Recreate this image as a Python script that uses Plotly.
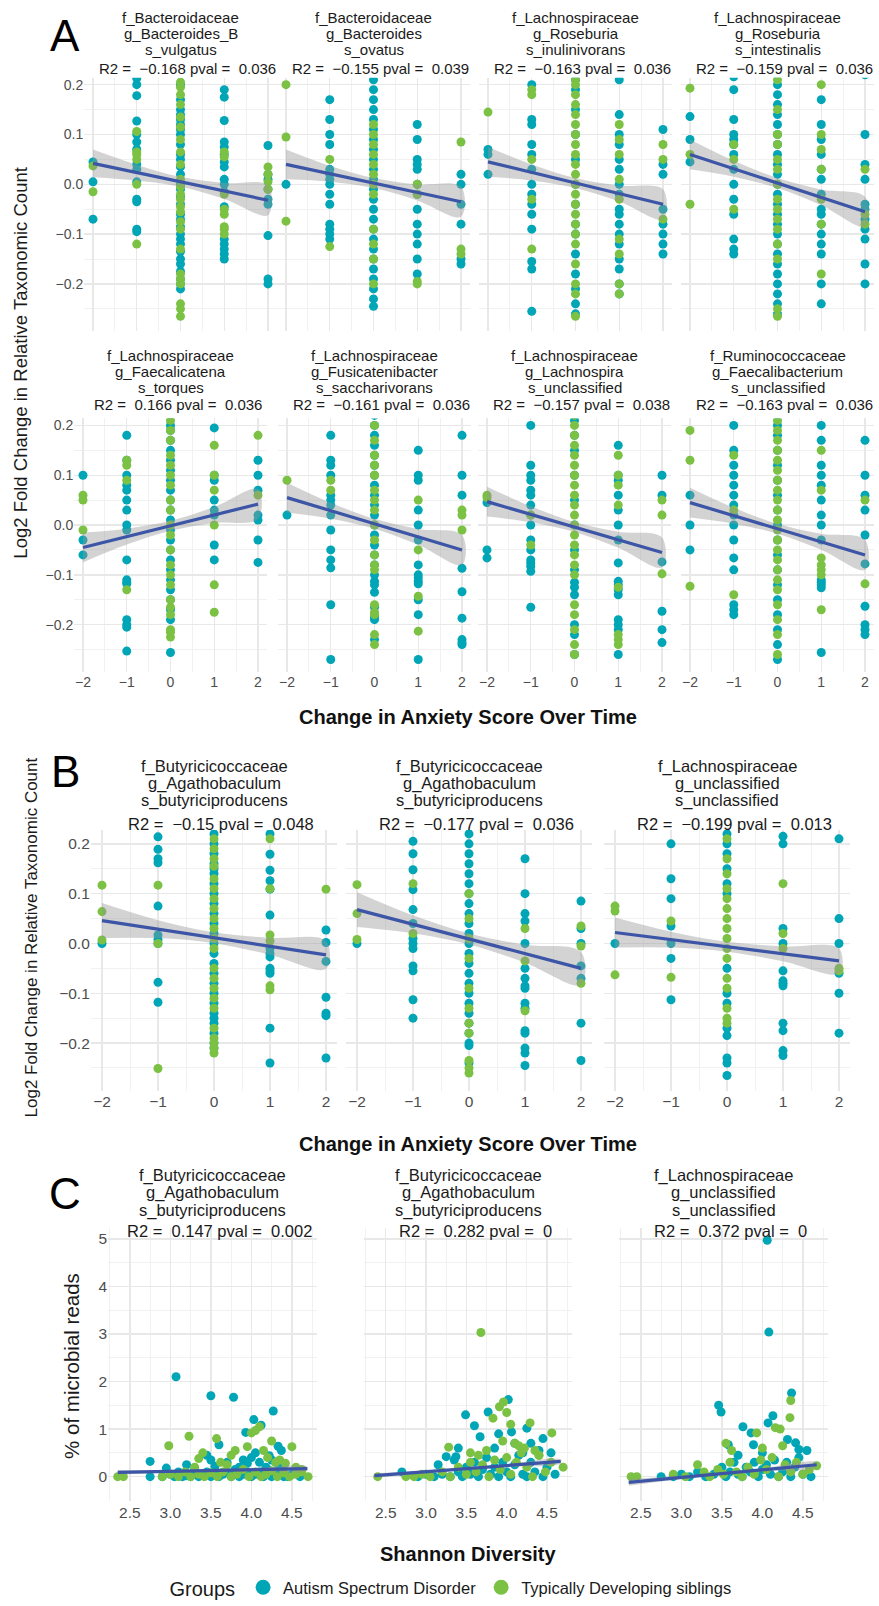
import plotly.graph_objects as go

W, H = 879, 1606
TEAL = '#00A5B6'
GREEN = '#7BC143'
FITC = '#3C55A6'
BANDC = 'rgba(150,150,150,0.42)'
FONT = 'Liberation Sans, Arial, sans-serif'
NB = '\u00a0'

# ------------------------------------------------------------------ DATA
# Panel A / B : y values per change-in-anxiety level (x), per group
A1_asd = {-2: [0.045, 0.005, -0.07],
          -1: [0.213, 0.2, 0.178, 0.127, 0.1, 0.085, 0.07, 0.04, 0.03, 0.005, -0.03, -0.035, -0.09, -0.095],
          0: [0.2, 0.17, 0.15, 0.14, 0.13, 0.12, 0.11, 0.1, 0.08, 0.06, 0.05, 0.035, 0.02, 0.0, -0.01, -0.025, -0.04,
              -0.06, -0.07, -0.085, -0.1, -0.11, -0.12, -0.135, -0.15, -0.16, -0.175, -0.19, -0.2, -0.21],
          1: [0.19, 0.175, 0.128, 0.085, 0.075, 0.06, 0.045, 0.035, 0.01, 0.0, -0.015, -0.045, -0.11, -0.12, -0.13, -0.14, -0.15],
          2: [0.078, 0.02, 0.01, -0.01, -0.03, -0.04, -0.103, -0.19, -0.2]}
A1_td = {-2: [0.037, -0.015],
         -1: [0.106, 0.065, 0.06, 0.05, 0.0, -0.12],
         0: [0.205, 0.195, 0.18, 0.16, 0.135, 0.115, 0.09, 0.065, 0.04, 0.01, -0.005, -0.02, -0.03, -0.045,
             -0.055, -0.075, -0.09, -0.13, -0.18, -0.19, -0.2, -0.24, -0.25, -0.265],
         1: [0.065, 0.055, -0.02, -0.05, -0.06, -0.085, -0.09, -0.1],
         2: [0.035, 0.02, 0.005, -0.01]}

A2_asd = {-2: [0.0],
          -1: [0.17, 0.13, 0.1, 0.08, 0.03, 0.02, 0.01, 0.0, -0.02, -0.04, -0.08, -0.09, -0.1, -0.11],
          0: [0.21, 0.19, 0.17, 0.15, 0.13, 0.11, 0.09, 0.07, 0.05, 0.03, 0.01, -0.01, -0.03, -0.05, -0.07, -0.09,
              -0.11, -0.13, -0.15, -0.17, -0.19, -0.21, -0.23, -0.245],
          1: [0.12, 0.09, 0.05, 0.04, 0.03, 0.0, -0.02, -0.05, -0.08, -0.1, -0.12, -0.15, -0.18],
          2: [0.02, 0.0, -0.04, -0.08, -0.15, -0.16]}
A2_td = {-2: [0.2, 0.095, -0.074],
         -1: [0.05, -0.125],
         0: [0.12, 0.1, 0.08, 0.06, 0.04, 0.02, 0.0, -0.02, -0.09, -0.12, -0.15, -0.2],
         1: [0.0, -0.02, -0.195, -0.2],
         2: [0.085, -0.13, -0.14]}

A3_asd = {-2: [0.07, 0.06, 0.02],
          -1: [0.2, 0.13, 0.12, 0.08, 0.06, 0.03, 0.0, -0.02, -0.04, -0.06, -0.09, -0.155, -0.17, -0.255],
          0: [0.21, 0.19, 0.15, 0.1, 0.05, 0.0, -0.04, -0.08, -0.1, -0.14, -0.18, -0.21, -0.24, -0.26],
          1: [0.21, 0.14, 0.1, 0.08, 0.05, 0.03, 0.0, -0.02, -0.05, -0.06, -0.08, -0.1, -0.12, -0.15, -0.17, -0.2, -0.22],
          2: [0.11, 0.04, 0.02, -0.05, -0.08, -0.1, -0.12, -0.14]}
A3_td = {-2: [0.145],
         -1: [0.19, 0.18, 0.05, -0.03, -0.13],
         0: [0.21, 0.2, 0.18, 0.16, 0.14, 0.12, 0.1, 0.08, 0.06, 0.04, 0.02, 0.0, -0.02, -0.04, -0.06, -0.08,
             -0.1, -0.12, -0.16, -0.2, -0.22, -0.265],
         1: [0.12, 0.09, 0.06, 0.01, -0.03, -0.11, -0.14, -0.2, -0.22],
         2: [0.08, 0.05, -0.07]}

A4_asd = {-2: [0.136, 0.09, 0.045],
          -1: [0.216, 0.19, 0.13, 0.1, 0.09, 0.08, 0.06, 0.03, 0.0, -0.03, -0.06, -0.11, -0.13, -0.14],
          0: [0.22, 0.2, 0.18, 0.16, 0.14, 0.12, 0.1, 0.08, 0.06, 0.04, 0.02, 0.0, -0.02, -0.04, -0.06, -0.08,
              -0.1, -0.12, -0.14, -0.16, -0.18, -0.2, -0.22, -0.24, -0.26],
          1: [0.17, 0.12, 0.09, 0.06, 0.03, 0.01, -0.02, -0.05, -0.06, -0.08, -0.1, -0.12, -0.14, -0.2, -0.24],
          2: [0.22, 0.1, 0.04, 0.01, -0.04, -0.05, -0.07, -0.09, -0.11, -0.16, -0.2]}
A4_td = {-2: [0.193, 0.06, -0.04],
         -1: [0.08, 0.05, -0.05],
         0: [0.21, 0.15, 0.1, 0.08, 0.05, 0.03, 0.0, -0.03, -0.05, -0.07, -0.09, -0.12, -0.15, -0.25, -0.265],
         1: [0.2, 0.1, 0.07, 0.03, -0.03, -0.08, -0.18],
         2: [0.03, -0.06, -0.08]}

A5_asd = {-2: [0.1, -0.03, -0.06],
          -1: [0.18, 0.13, 0.1, 0.08, 0.07, 0.05, 0.03, 0.0, -0.01, -0.07, -0.11, -0.115, -0.118, -0.19, -0.2, -0.205, -0.253],
          0: [0.22, 0.2, 0.19, 0.17, 0.15, 0.13, 0.11, 0.09, 0.07, 0.05, 0.03, 0.01, -0.01, -0.03, -0.05, -0.07,
              -0.09, -0.11, -0.13, -0.15, -0.17, -0.19, -0.256],
          1: [0.195, 0.1, 0.09, 0.05, 0.03, 0.02, -0.04, -0.07],
          2: [0.13, 0.1, 0.07, 0.02, 0.01, -0.03, -0.075]}
A5_td = {-2: [0.06, 0.05, -0.01],
         -1: [0.13, 0.12, 0.09, -0.13],
         0: [0.22, 0.21, 0.19, 0.17, 0.14, 0.12, 0.1, 0.08, 0.05, 0.03, 0.0, -0.02, -0.05, -0.08, -0.1, -0.12,
             -0.15, -0.165, -0.18, -0.21, -0.215, -0.225],
         1: [0.16, 0.1, 0.07, 0.0, -0.12, -0.175],
         2: [0.18, 0.06]}

A6_asd = {-2: [0.02],
          -1: [0.18, 0.13, 0.12, 0.1, 0.06, 0.05, 0.04, 0.02, -0.01, -0.05, -0.07, -0.086, -0.16, -0.27],
          0: [0.22, 0.2, 0.18, 0.16, 0.14, 0.12, 0.1, 0.08, 0.06, 0.04, 0.02, 0.0, -0.02, -0.04, -0.06, -0.08,
              -0.1, -0.113, -0.12, -0.135, -0.165, -0.185, -0.19, -0.23],
          1: [0.15, 0.1, 0.09, 0.03, 0.0, -0.03, -0.08, -0.1, -0.106, -0.113, -0.118, -0.15, -0.18, -0.27],
          2: [0.18, 0.1, 0.06, -0.087, -0.134, -0.187, -0.23, -0.236, -0.24]}
A6_td = {-2: [0.09],
         -1: [0.09, 0.07],
         0: [0.2, 0.17, 0.14, 0.12, 0.1, 0.07, 0.05, 0.03, 0.0, -0.03, -0.06, -0.08, -0.09, -0.16, -0.175,
             -0.18, -0.22, -0.24],
         1: [0.05, -0.05, -0.143, -0.213],
         2: [0.03, 0.02, -0.01]}

A7_asd = {-2: [0.045, -0.05, -0.066],
          -1: [0.2, 0.12, 0.1, 0.09, 0.07, 0.06, 0.04, 0.02, 0.0, -0.03, -0.05, -0.07, -0.076, -0.083, -0.093, -0.165],
          0: [0.21, 0.18, 0.15, 0.1, 0.05, 0.0, -0.05, -0.09, -0.115, -0.125, -0.14, -0.2, -0.22, -0.26],
          1: [0.16, 0.1, 0.09, 0.06, 0.03, 0.0, -0.03, -0.076, -0.113, -0.12, -0.13, -0.14, -0.19, -0.2, -0.21, -0.26],
          2: [0.1, 0.06, -0.074, -0.173, -0.21, -0.236]}
A7_td = {-2: [0.06, 0.055],
         -1: [0.02, -0.04],
         0: [0.22, 0.2, 0.18, 0.16, 0.14, 0.12, 0.1, 0.08, 0.06, 0.04, 0.02, 0.0, -0.02, -0.04, -0.06, -0.08,
             -0.1, -0.16, -0.18, -0.21, -0.24, -0.26],
         1: [0.14, 0.1, 0.08, 0.04, -0.125, -0.22, -0.23, -0.24],
         2: [0.05, 0.02, -0.098]}

A8_asd = {-2: [0.06, 0.0, -0.05],
          -1: [0.2, 0.15, 0.12, 0.1, 0.08, 0.06, 0.04, 0.02, 0.0, -0.03, -0.066, -0.09, -0.16, -0.17, -0.18],
          0: [0.22, 0.2, 0.18, 0.15, 0.12, 0.09, 0.06, 0.03, 0.0, -0.03, -0.06, -0.09, -0.12, -0.15, -0.18,
              -0.21, -0.24, -0.27],
          1: [0.2, 0.17, 0.12, 0.1, 0.08, 0.05, 0.02, 0.0, -0.03, -0.11, -0.115, -0.12, -0.126, -0.256],
          2: [0.17, 0.1, 0.06, 0.03, -0.02, -0.078, -0.163, -0.2, -0.21, -0.22]}
A8_td = {-2: [0.19, 0.13, -0.123],
         -1: [0.14, 0.03, -0.14],
         0: [0.21, 0.19, 0.17, 0.15, 0.13, 0.11, 0.09, 0.07, 0.05, 0.03, 0.01, -0.01, -0.03, -0.05, -0.07,
             -0.09, -0.11, -0.13, -0.16, -0.19, -0.22, -0.26],
         1: [0.15, 0.07, -0.066, -0.08, -0.09, -0.1, -0.17],
         2: [0.05, -0.118]}

B1_asd = {-2: [0.0],
          -1: [0.214, 0.189, 0.17, 0.162, 0.075, 0.017, 0.008, 0.0, -0.078, -0.118],
          0: [0.22, 0.2, 0.18, 0.16, 0.15, 0.14, 0.12, 0.1, 0.08, 0.06, 0.04, 0.02, 0.0, -0.02, -0.04, -0.06,
              -0.08, -0.1, -0.12, -0.14, -0.15, -0.16, -0.18, -0.2, -0.21],
          1: [0.22, 0.179, 0.147, 0.126, 0.109, 0.057, -0.01, -0.02, -0.027, -0.05, -0.055, -0.06, -0.17, -0.24],
          2: [0.027, 0.002, -0.036, -0.108, -0.14, -0.145, -0.23]}
B1_td = {-2: [0.117, 0.064, 0.007],
         -1: [0.117, 0.0, -0.251],
         0: [0.21, 0.19, 0.17, 0.155, 0.13, 0.11, 0.09, 0.07, 0.05, 0.03, 0.01, -0.01, -0.05, -0.07, -0.09,
             -0.11, -0.13, -0.17, -0.19, -0.2, -0.21, -0.22],
         1: [0.21, 0.11, 0.017, 0.005, -0.085, -0.093],
         2: [0.109]}

B2_asd = {-2: [0.0],
          -1: [0.205, 0.18, 0.148, 0.108, 0.068, 0.04, 0.01, 0.0, -0.01, -0.045, -0.055, -0.113, -0.15],
          0: [0.22, 0.2, 0.18, 0.16, 0.14, 0.12, 0.1, 0.08, 0.06, 0.04, 0.02, 0.0, -0.02, -0.04, -0.06, -0.08,
              -0.1, -0.12, -0.14, -0.16, -0.18, -0.2, -0.205, -0.24],
          1: [0.17, 0.1, 0.06, 0.045, 0.0, -0.05, -0.07, -0.085, -0.09, -0.12, -0.13, -0.175, -0.18, -0.21, -0.22, -0.245],
          2: [0.085, 0.03, 0.0, -0.045, -0.07, -0.16, -0.235]}
B2_td = {-2: [0.118, 0.06, 0.008],
         -1: [0.12, 0.02],
         0: [0.1, 0.05, 0.01, -0.03, -0.09, -0.13, -0.16, -0.18, -0.235, -0.25, -0.26],
         1: [0.03, -0.035, -0.135],
         2: [0.035, -0.005, -0.08]}

B3_asd = {-2: [0.0],
          -1: [0.2, 0.13, 0.09, 0.035, 0.0, -0.03, -0.113],
          0: [0.22, 0.2, 0.18, 0.15, 0.12, 0.1, -0.05, -0.1, -0.12, -0.17, -0.185, -0.23, -0.24, -0.265],
          1: [0.215, 0.2, 0.03, 0.0, -0.055, -0.075, -0.08, -0.085, -0.16, -0.175, -0.215, -0.225],
          2: [0.21, 0.05, 0.0, -0.06, -0.1, -0.18]}
B3_td = {-2: [0.075, 0.065, -0.063],
         -1: [0.045, -0.068],
         0: [0.21, 0.17, 0.14, 0.11, 0.09, 0.07, 0.05, 0.03, 0.01, -0.01, -0.03, -0.07, -0.09, -0.13, -0.15, -0.16],
         1: [0.12, 0.02, -0.01],
         2: [-0.05, -0.055]}

# fitted line: value at x=-2 and x=2 ; CI half-width at x=-2,-1,0,1,2
fit_x = [-2, 2]
band_x = [-2, -1, 0, 1, 2]
A1_fit, A1_band = [0.042, -0.032], [0.028, 0.016, 0.01, 0.016, 0.03]
A2_fit, A2_band = [0.04, -0.035], [0.03, 0.016, 0.01, 0.016, 0.03]
A3_fit, A3_band = [0.045, -0.04], [0.03, 0.016, 0.01, 0.016, 0.03]
A4_fit, A4_band = [0.06, -0.055], [0.03, 0.016, 0.01, 0.016, 0.03]
A5_fit, A5_band = [-0.045, 0.042], [0.03, 0.016, 0.01, 0.016, 0.03]
A6_fit, A6_band = [0.055, -0.05], [0.03, 0.016, 0.01, 0.016, 0.03]
A7_fit, A7_band = [0.047, -0.055], [0.03, 0.016, 0.01, 0.016, 0.03]
A8_fit, A8_band = [0.045, -0.06], [0.03, 0.016, 0.01, 0.016, 0.03]
B1_fit, B1_band = [0.046, -0.023], [0.035, 0.018, 0.011, 0.017, 0.028]
B2_fit, B2_band = [0.068, -0.05], [0.035, 0.018, 0.011, 0.018, 0.033]
B3_fit, B3_band = [0.022, -0.035], [0.03, 0.016, 0.01, 0.015, 0.025]

# Panel C : Shannon diversity (x) vs % of microbial reads (y)
C1_asd_x = [2.75, 2.9, 3.0, 3.05, 3.1, 3.15, 3.2, 3.25, 3.3, 3.35, 3.4, 3.45, 3.5, 3.55, 3.6, 3.65, 3.7, 3.75,
            3.8, 3.85, 3.9, 3.95, 4.0, 4.05, 4.1, 4.15, 4.2, 4.25, 4.3, 4.35, 4.4, 4.45, 4.5, 4.6,
            2.75, 2.95, 3.3, 3.45, 3.5, 3.6, 3.7, 3.85, 3.9, 4.0, 4.05, 4.1, 4.18, 4.22, 4.3, 4.35, 4.4, 3.2,
            3.55, 3.95, 4.25, 3.07, 3.5, 3.78, 4.27, 4.03, 4.12, 3.93, 4.33, 4.37]
C1_asd_y = [0.0, 0.0, 0.05, 0.0, 0.1, 0.0, 0.02, 0.0, 0.08, 0.0, 0.05, 0.1, 0.0, 0.12, 0.0, 0.05, 0.1, 0.0,
            0.15, 0.0, 0.05, 0.1, 0.0, 0.05, 0.1, 0.0, 0.15, 0.0, 0.05, 0.1, 0.0, 0.0, 0.05, 0.0,
            0.32, 0.18, 0.15, 0.45, 0.35, 0.67, 0.3, 0.2, 0.35, 0.4, 0.5, 0.3, 0.2, 0.44, 0.3, 0.2, 0.25, 0.25,
            0.22, 0.28, 0.35, 2.1, 1.7, 1.67, 1.38, 1.2, 1.08, 0.93, 0.64, 0.55]
C1_td_x = [2.35, 2.42, 2.9, 3.0, 3.1, 3.18, 3.25, 3.35, 3.42, 3.5, 3.58, 3.65, 3.75, 3.82, 3.9, 3.97, 4.05,
           4.12, 4.18, 4.25, 4.32, 4.4, 4.47, 4.55, 4.62, 4.7,
           2.98, 3.23, 3.35, 3.4, 3.57, 3.62, 3.75, 3.8, 3.95, 4.0, 4.05, 4.1, 4.15, 4.2, 4.25, 4.3, 4.5, 4.55,
           4.62, 3.3, 3.7, 4.35, 4.42]
C1_td_y = [0.0, 0.0, 0.0, 0.05, 0.0, 0.1, 0.0, 0.05, 0.0, 0.08, 0.0, 0.1, 0.0, 0.05, 0.15, 0.0, 0.1, 0.0,
           0.05, 0.12, 0.0, 0.08, 0.0, 0.05, 0.1, 0.0,
           0.65, 0.85, 0.38, 0.5, 0.8, 0.3, 0.45, 0.55, 0.63, 0.92, 0.97, 1.05, 0.55, 0.4, 0.75, 0.3, 0.63, 0.2,
           0.15, 0.2, 0.25, 0.35, 0.28]

C2_asd_x = [2.7, 2.9, 3.0, 3.1, 3.15, 3.2, 3.3, 3.35, 3.4, 3.45, 3.5, 3.55, 3.6, 3.65, 3.7, 3.75, 3.8, 3.85,
            3.9, 3.95, 4.0, 4.05, 4.1, 4.15, 4.2, 4.25, 4.3, 4.35, 4.4, 4.45, 4.5, 4.6,
            3.49, 3.6, 3.67, 3.77, 4.02, 4.06, 4.25, 3.37, 3.25, 3.4, 3.9, 4.1, 4.3, 4.45, 4.55, 3.85, 4.2]
C2_asd_y = [0.1, 0.0, 0.05, 0.0, 0.25, 0.05, 0.0, 0.35, 0.1, 0.0, 0.2, 0.05, 0.3, 0.0, 0.15, 0.4, 0.05, 0.2,
            0.0, 0.3, 0.1, 0.0, 0.25, 0.45, 0.05, 0.0, 0.3, 0.1, 0.55, 0.0, 0.2, 0.05,
            1.3, 1.07, 0.84, 1.36, 1.62, 0.94, 1.02, 0.42, 0.42, 0.6, 0.9, 0.7, 0.7, 0.8, 0.5, 0.6, 0.5]
C2_td_x = [2.4, 2.75, 2.85, 2.95, 3.05, 3.2, 3.3, 3.4, 3.5, 3.55, 3.62, 3.7, 3.78, 3.85, 3.92, 4.0, 4.05,
           4.12, 4.18, 4.25, 4.32, 4.4, 4.48, 4.55, 4.7,
           3.68, 3.96, 3.91, 3.83, 4.05, 4.29, 4.56, 3.28, 3.55, 3.75, 3.95, 4.1, 4.15, 4.22, 4.35, 4.4, 3.65, 4.0]
C2_td_y = [0.0, 0.0, 0.0, 0.05, 0.0, 0.1, 0.0, 0.2, 0.05, 0.3, 0.1, 0.25, 0.0, 0.35, 0.15, 0.4, 0.05, 0.3,
           0.5, 0.2, 0.0, 0.45, 0.1, 0.3, 0.2,
           3.03, 1.57, 1.47, 1.23, 1.1, 1.13, 0.92, 0.62, 0.5, 0.55, 0.75, 0.7, 0.65, 0.6, 0.55, 0.45, 0.45, 1.35]

C3_asd_x = [2.75, 2.9, 3.0, 3.1, 3.2, 3.3, 3.4, 3.5, 3.55, 3.6, 3.65, 3.7, 3.75, 3.8, 3.85, 3.9, 3.95, 4.0,
            4.05, 4.1, 4.15, 4.2, 4.25, 4.3, 4.35, 4.4, 4.45, 4.5, 4.6,
            4.06, 4.08, 4.36, 3.46, 3.49, 3.58, 3.76, 3.86, 3.89, 4.07, 4.13, 4.31, 4.41, 4.45, 4.55, 4.0, 3.7]
C3_asd_y = [0.0, 0.0, 0.05, 0.0, 0.1, 0.0, 0.05, 0.2, 0.0, 0.1, 0.3, 0.05, 0.0, 0.2, 0.1, 0.3, 0.0, 0.15,
            0.25, 0.05, 0.35, 0.0, 0.1, 0.3, 0.0, 0.2, 0.4, 0.05, 0.0,
            4.97, 3.04, 1.76, 1.5, 1.36, 0.67, 1.05, 0.92, 0.67, 1.13, 1.28, 0.78, 0.71, 0.57, 0.55, 0.5, 0.45]
C3_td_x = [2.38, 2.45, 2.9, 3.05, 3.2, 3.28, 3.35, 3.45, 3.52, 3.6, 3.68, 3.75, 3.82, 3.9, 3.98, 4.05, 4.12,
           4.2, 4.28, 4.35, 4.42, 4.5, 4.58, 4.67,
           4.35, 4.34, 3.93, 4.16, 4.22, 3.55, 3.62, 4.0, 4.25]
C3_td_y = [0.0, 0.0, 0.05, 0.0, 0.25, 0.1, 0.0, 0.15, 0.05, 0.3, 0.1, 0.0, 0.2, 0.05, 0.35, 0.15, 0.4,
           0.0, 0.25, 0.1, 0.3, 0.05, 0.15, 0.23,
           1.6, 1.24, 0.92, 1.03, 1.0, 0.7, 0.55, 0.6, 0.65]

C1_fit_x, C1_fit_y = [2.35, 4.69], [0.09, 0.17]
C2_fit_x, C2_fit_y = [2.36, 4.67], [0.02, 0.32]
C3_fit_x, C3_fit_y = [2.35, 4.67], [-0.12, 0.25]
C_band_x_frac = [0.0, 0.35, 0.65, 1.0]
C1_band = [0.05, 0.02, 0.015, 0.04]
C2_band = [0.05, 0.02, 0.015, 0.04]
C3_band = [0.07, 0.03, 0.02, 0.05]

# taxonomy strip text and stats
A_tax = [['f_Bacteroidaceae', 'g_Bacteroides_B', 's_vulgatus'],
         ['f_Bacteroidaceae', 'g_Bacteroides', 's_ovatus'],
         ['f_Lachnospiraceae', 'g_Roseburia', 's_inulinivorans'],
         ['f_Lachnospiraceae', 'g_Roseburia', 's_intestinalis'],
         ['f_Lachnospiraceae', 'g_Faecalicatena', 's_torques'],
         ['f_Lachnospiraceae', 'g_Fusicatenibacter', 's_saccharivorans'],
         ['f_Lachnospiraceae', 'g_Lachnospira', 's_unclassified'],
         ['f_Ruminococcaceae', 'g_Faecalibacterium', 's_unclassified']]
A_r2 = ['−0.168', '−0.155', '−0.163', '−0.159', '0.166', '−0.161', '−0.157', '−0.163']
A_p = ['0.036', '0.039', '0.036', '0.036', '0.036', '0.036', '0.038', '0.036']
B_tax = [['f_Butyricicoccaceae', 'g_Agathobaculum', 's_butyriciproducens'],
         ['f_Butyricicoccaceae', 'g_Agathobaculum', 's_butyriciproducens'],
         ['f_Lachnospiraceae', 'g_unclassified', 's_unclassified']]
B_r2 = ['−0.15', '−0.177', '−0.199']
B_p = ['0.048', '0.036', '0.013']
C_tax = B_tax
C_r2 = ['0.147', '0.282', '0.372']
C_p = ['0.002', '0', '0']
groups = ['Autism Spectrum Disorder', 'Typically Developing siblings']

# ------------------------------------------------------------------ LAYOUT (target pixels)
def fx(p):
    return p / W


def fy(p):
    return 1 - p / H


A_unit = 43.75
A_row_y = [(78, 332), (420, 675)]
A_row_rng = [[-0.294, 0.214], [-0.296, 0.214]]
A_c = [[93, 286, 488, 690], [83, 287, 487, 690]]
A_title_y = [[18, 34, 50, 69], [357, 373, 389, 406]]
B_unit = 56
B_y = (833, 1095)
B_rng = [-0.296, 0.228]
B_c = [102, 357, 615]
B_title_y = [769, 786, 804, 827]
C_y = (1233, 1507)
C_rng = [-0.52, 5.22]
C_xr = [2.23, 4.81]
C_dom = [(108, 317), (364, 572), (619, 828)]
C_title_y = [1180, 1197, 1215, 1236]

fig = go.Figure()
layout = dict(width=W, height=H, margin=dict(l=0, r=0, t=0, b=0),
              paper_bgcolor='white', plot_bgcolor='white', showlegend=True)
annotations = []

GRID = '#E8E8E8'
MINOR = '#EFEFEF'


def add_axes(i, xd, yd, xr, yr, xdt, xminor, ydt, yminor, showx, showy, tfs, xfmt, yfmt):
    xa = dict(domain=[fx(xd[0]), fx(xd[1])], range=xr, anchor='y%d' % i, showgrid=True, gridcolor=GRID,
              gridwidth=1.4, dtick=xdt, tick0=0, zeroline=False, showline=False, ticks='',
              showticklabels=showx, tickfont=dict(family=FONT, size=tfs, color='#4D4D4D'),
              tickformat=xfmt, minor=dict(showgrid=True, gridcolor=MINOR, gridwidth=0.9, dtick=xminor),
              fixedrange=True)
    ya = dict(domain=[fy(yd[1]), fy(yd[0])], range=yr, anchor='x%d' % i, showgrid=True, gridcolor=GRID,
              gridwidth=1.4, dtick=ydt, tick0=0, zeroline=False, showline=False, ticks='',
              showticklabels=showy, tickfont=dict(family=FONT, size=tfs, color='#4D4D4D'),
              tickformat=yfmt, minor=dict(showgrid=True, gridcolor=MINOR, gridwidth=0.9, dtick=yminor),
              fixedrange=True)
    layout['xaxis' if i == 1 else 'xaxis%d' % i] = xa
    layout['yaxis' if i == 1 else 'yaxis%d' % i] = ya


def flatten(d):
    xs, ys = [], []
    for k, vals in d.items():
        xs += [k] * len(vals)
        ys += vals
    return xs, ys


def add_band(i, bx, yl, hw):
    up = [a + b for a, b in zip(yl, hw)]
    lo = [a - b for a, b in zip(yl, hw)]
    fig.add_trace(go.Scatter(x=bx + bx[::-1], y=up + lo[::-1], fill='toself', fillcolor=BANDC,
                             line=dict(width=0, shape='spline'), mode='lines', hoverinfo='skip',
                             showlegend=False, xaxis='x%d' % i, yaxis='y%d' % i))


def add_points(i, xs, ys, color, ms):
    fig.add_trace(go.Scatter(x=xs, y=ys, mode='markers', marker=dict(color=color, size=ms, line=dict(width=0)),
                             showlegend=False, xaxis='x%d' % i, yaxis='y%d' % i))


def add_fit(i, xs, ys):
    fig.add_trace(go.Scatter(x=xs, y=ys, mode='lines', line=dict(color=FITC, width=3.2),
                             showlegend=False, xaxis='x%d' % i, yaxis='y%d' % i))


def add_titles(cx, ty, tax, r2, p, fs):
    for line, yy in zip(tax, ty[:3]):
        annotations.append(dict(text=line, x=fx(cx), y=fy(yy), xref='paper', yref='paper', showarrow=False,
                                xanchor='center', yanchor='middle', borderpad=0,
                                font=dict(family=FONT, size=fs, color='#1A1A1A')))
    txt = 'R2 =' + NB * 2 + r2 + ' pval =' + NB * 2 + p
    annotations.append(dict(text=txt, x=fx(cx), y=fy(ty[3]), xref='paper', yref='paper', showarrow=False,
                            xanchor='center', yanchor='middle', xshift=7, borderpad=0,
                            font=dict(family=FONT, size=fs, color='#1A1A1A')))


def line_at(fit, xv):
    return fit[0] + (fit[1] - fit[0]) * (xv - fit_x[0]) / (fit_x[1] - fit_x[0])


A_data = [(A1_asd, A1_td, A1_fit, A1_band), (A2_asd, A2_td, A2_fit, A2_band),
          (A3_asd, A3_td, A3_fit, A3_band), (A4_asd, A4_td, A4_fit, A4_band),
          (A5_asd, A5_td, A5_fit, A5_band), (A6_asd, A6_td, A6_fit, A6_band),
          (A7_asd, A7_td, A7_fit, A7_band), (A8_asd, A8_td, A8_fit, A8_band)]
B_data = [(B1_asd, B1_td, B1_fit, B1_band), (B2_asd, B2_td, B2_fit, B2_band), (B3_asd, B3_td, B3_fit, B3_band)]
C_data = [(C1_asd_x, C1_asd_y, C1_td_x, C1_td_y, C1_fit_x, C1_fit_y, C1_band),
          (C2_asd_x, C2_asd_y, C2_td_x, C2_td_y, C2_fit_x, C2_fit_y, C2_band),
          (C3_asd_x, C3_asd_y, C3_td_x, C3_td_y, C3_fit_x, C3_fit_y, C3_band)]

idx = 0
# ---- Panel A
for k, (asd, td, fit, band) in enumerate(A_data):
    idx += 1
    row, col = divmod(k, 4)
    c = A_c[row][col]
    xd = (c - 0.2 * A_unit, c + 4.2 * A_unit)
    add_axes(idx, xd, A_row_y[row], [-2.2, 2.2], A_row_rng[row], 1, 0.5, 0.1, 0.05,
             row == 1, col == 0, 14, 'd', '.1f')
    ax, ay = flatten(asd)
    tx, ty_ = flatten(td)
    add_points(idx, ax, ay, TEAL, 9)
    add_points(idx, tx, ty_, GREEN, 9)
    add_band(idx, band_x, [line_at(fit, v) for v in band_x], band)
    add_fit(idx, fit_x, fit)
    add_titles((xd[0] + xd[1]) / 2, A_title_y[row], A_tax[k], A_r2[k], A_p[k], 15)

# ---- Panel B
for k, (asd, td, fit, band) in enumerate(B_data):
    idx += 1
    c = B_c[k]
    xd = (c - 0.2 * B_unit, c + 4.2 * B_unit)
    add_axes(idx, xd, B_y, [-2.2, 2.2], B_rng, 1, 0.5, 0.1, 0.05, True, k == 0, 15.5, 'd', '.1f')
    ax, ay = flatten(asd)
    tx, ty_ = flatten(td)
    add_points(idx, ax, ay, TEAL, 9)
    add_points(idx, tx, ty_, GREEN, 9)
    add_band(idx, band_x, [line_at(fit, v) for v in band_x], band)
    add_fit(idx, fit_x, fit)
    add_titles((xd[0] + xd[1]) / 2, B_title_y, B_tax[k], B_r2[k], B_p[k], 16.5)

# ---- Panel C
for k, (axs, ays, txs, tys, fxs, fys, band) in enumerate(C_data):
    idx += 1
    xd = C_dom[k]
    add_axes(idx, xd, C_y, C_xr, C_rng, 0.5, 0.25, 1, 0.5, True, k == 0, 15.5, '.1f', 'd')
    add_points(idx, axs, ays, TEAL, 9)
    add_points(idx, txs, tys, GREEN, 9)
    bx = [fxs[0] + f * (fxs[1] - fxs[0]) for f in C_band_x_frac]
    bl = [fys[0] + f * (fys[1] - fys[0]) for f in C_band_x_frac]
    add_band(idx, bx, bl, band)
    add_fit(idx, fxs, fys)
    add_titles((xd[0] + xd[1]) / 2, C_title_y, C_tax[k], C_r2[k], C_p[k], 16.5)

# legend entries
for name, color in zip(groups, [TEAL, GREEN]):
    fig.add_trace(go.Scatter(x=[None], y=[None], mode='markers', name=name,
                             marker=dict(color=color, size=15), showlegend=True, xaxis='x14', yaxis='y14'))

layout['legend'] = dict(orientation='h', x=fx(452), xanchor='center', y=fy(1594), yanchor='middle',
                        title=dict(text='Groups', side='left', font=dict(family=FONT, size=20, color='#1A1A1A')),
                        font=dict(family=FONT, size=16.5, color='#1A1A1A'), itemwidth=30,
                        bgcolor='rgba(0,0,0,0)', tracegroupgap=0)

# panel letters
for letter, (lx, ly) in zip(['A', 'B', 'C'], [(65, 36), (65, 774), (65, 1198)]):
    annotations.append(dict(text=letter, x=fx(lx), y=fy(ly), xref='paper', yref='paper', showarrow=False,
                            xanchor='center', yanchor='middle', borderpad=0,
                            font=dict(family=FONT, size=44, color='black')))

# axis titles
annotations.append(dict(text='Log2 Fold Change in Relative Taxonomic Count', x=fx(21), y=fy(365), xref='paper',
                        yref='paper', showarrow=False, textangle=-90, xanchor='center', yanchor='middle',
                        font=dict(family=FONT, size=18.5, color='#1A1A1A')))
annotations.append(dict(text='Log2 Fold Change in Relative Taxonomic Count', x=fx(31), y=fy(941), xref='paper',
                        yref='paper', showarrow=False, textangle=-90, xanchor='center', yanchor='middle',
                        font=dict(family=FONT, size=17, color='#1A1A1A')))
annotations.append(dict(text='% of microbial reads', x=fx(72), y=fy(1371), xref='paper',
                        yref='paper', showarrow=False, textangle=-90, xanchor='center', yanchor='middle',
                        font=dict(family=FONT, size=20.5, color='#1A1A1A')))
for txt, yy in [('Change in Anxiety Score Over Time', 720), ('Change in Anxiety Score Over Time', 1148),
                ('Shannon Diversity', 1560)]:
    annotations.append(dict(text='<b>' + txt + '</b>', x=fx(468), y=fy(yy), xref='paper', yref='paper',
                            showarrow=False, xanchor='center', yanchor='middle',
                            font=dict(family=FONT, size=20, color='#111111')))

layout['annotations'] = annotations
fig.update_layout(**layout)
fig.write_html('out.html', config={'displayModeBar': False, 'staticPlot': True},
               post_script="document.body.style.margin='0px';document.body.style.overflow='hidden';")
